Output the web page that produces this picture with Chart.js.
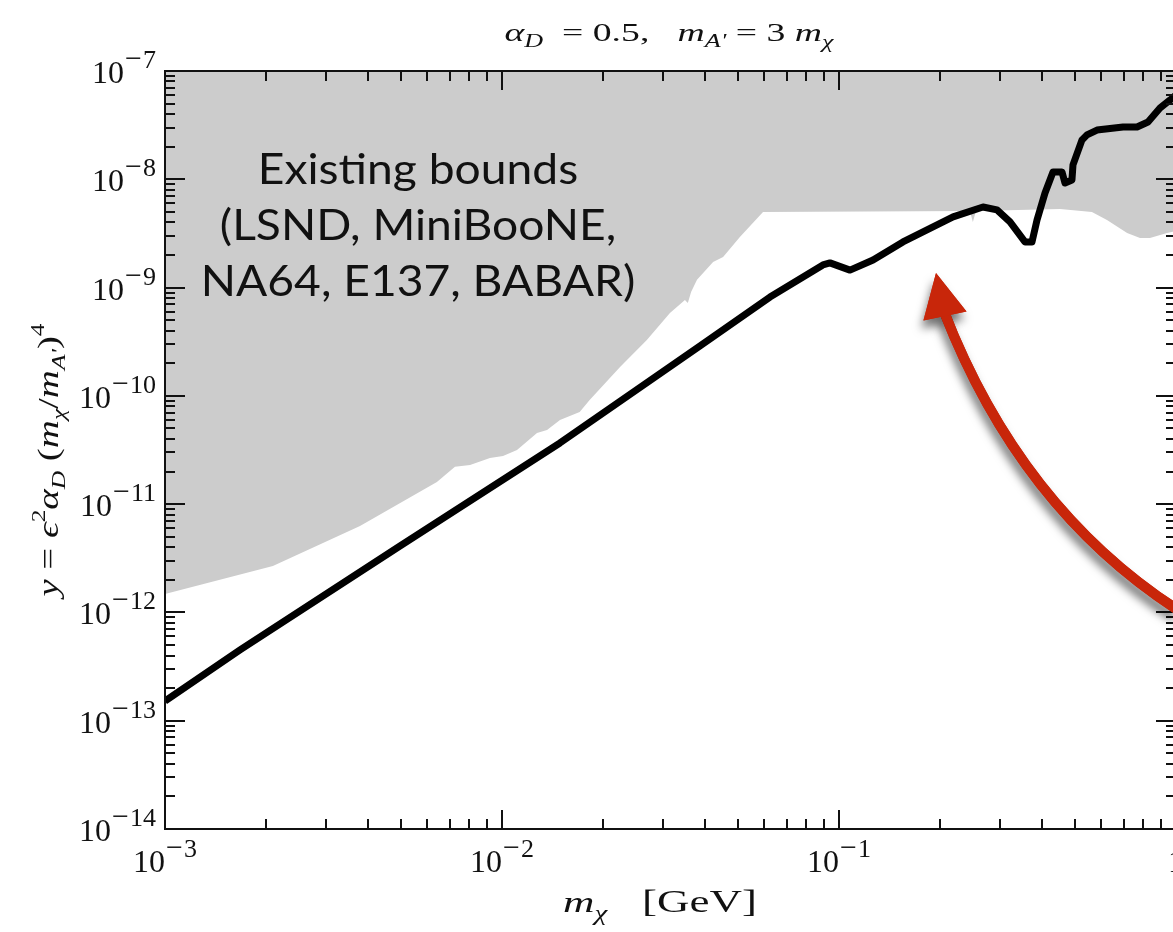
<!DOCTYPE html>
<html>
<head>
<meta charset="utf-8">
<script src="https://cdn.jsdelivr.net/npm/chart.js@4.4.1/dist/chart.umd.min.js"></script>
<style>
  html, body { margin: 0; padding: 0; background: #fff; overflow: hidden; }
</style>
</head>
<body>
<canvas id="plot" width="1200" height="932"></canvas>
<script>
/* ================================================
   DATA  (log-log axes)
================================================ */

// black curve: projected sensitivity
const curveX = [1.0e-3, 1.67e-3, 4.98e-3, 1.486e-2, 3.87e-2, 6.24e-2, 8.96e-2, 9.40e-2,
                0.1078, 0.1262, 0.1548, 0.2180, 0.2675, 0.2943, 0.3217, 0.3563, 0.3738,
                0.3869, 0.4086, 0.4315, 0.4588, 0.4684, 0.4912, 0.4947, 0.5261, 0.5444,
                0.5829, 0.6965, 0.7663, 0.8259, 0.8964, 0.9598, 1.0];
const curveY = [1.52e-13, 4.51e-13, 4.11e-12, 3.67e-11, 2.89e-10, 8.18e-10, 1.62e-9, 1.69e-9,
                1.45e-9, 1.80e-9, 2.64e-9, 4.49e-9, 5.55e-9, 5.21e-9, 4.04e-9, 2.64e-9, 2.64e-9,
                4.21e-9, 7.47e-9, 1.17e-8, 1.17e-8, 9.24e-9, 9.86e-9, 1.36e-8, 2.31e-8, 2.57e-8,
                2.85e-8, 3.04e-8, 3.04e-8, 3.38e-8, 4.55e-8, 5.39e-8, 6.0e-8];

// lower edge of the grey excluded region (filled up to the top)
const boundX = [1.0e-3, 2.09e-3, 3.79e-3, 6.41e-3, 7.25e-3, 8.04e-3, 9.21e-3, 1.007e-2,
                1.108e-2, 1.27e-2, 1.36e-2, 1.486e-2, 1.70e-2, 1.82e-2, 2.24e-2, 2.69e-2,
                3.15e-2, 3.49e-2, 3.56e-2, 3.64e-2, 3.79e-2, 4.23e-2, 4.53e-2, 5.08e-2,
                5.95e-2, 0.2446, 0.2496, 0.2549, 0.453, 0.563, 0.624, 0.716, 0.782, 0.837,
                0.940, 1.0];
const boundY = [1.48e-12, 2.69e-12, 6.29e-12, 1.60e-11, 2.21e-11, 2.30e-11, 2.67e-11, 2.79e-11,
                3.16e-11, 4.54e-11, 4.84e-11, 5.98e-11, 7.10e-11, 9.16e-11, 1.85e-10, 3.28e-10,
                5.82e-10, 7.69e-10, 7.21e-10, 9.1e-10, 1.18e-9, 1.72e-9, 1.92e-9, 2.93e-9,
                4.99e-9, 5.1e-9, 4.04e-9, 5.1e-9, 5.32e-9, 4.99e-9, 4.21e-9, 3.19e-9, 2.87e-9,
                2.87e-9, 3.19e-9, 3.33e-9];

// axis decades (exponents) and minor multipliers
const xDecades = [-3, -2, -1, 0];
const yDecades = [-14, -13, -12, -11, -10, -9, -8, -7];
const minorMult = [2, 3, 4, 5, 6, 7, 8, 9];

const boundsText = ['Existing bounds', '(LSND, MiniBooNE,', 'NA64, E137, BABAR)'];

/* ================================================
   TEXT HELPERS
================================================ */

const SERIF = "'Liberation Serif', 'Times New Roman', serif";
const f = (size, italic) => (italic ? 'italic ' : '') + size + 'px ' + SERIF;

/* runs flow left to right, each with its own font and baseline shift */
function drawRuns(ctx, runs, x, y, align) {
  let w = 0;
  runs.forEach(r => { ctx.font = r.font; w += (r.gap || 0) + ctx.measureText(r.t).width; });
  let cx = align === 'center' ? x - w / 2 : align === 'right' ? x - w : x;
  ctx.textAlign = 'left';
  ctx.textBaseline = 'alphabetic';
  runs.forEach(r => {
    ctx.font = r.font;
    cx += r.gap || 0;
    ctx.fillText(r.t, cx, y + (r.dy || 0));
    cx += ctx.measureText(r.t).width;
  });
}

/* same, but stretched along the reading direction like the wide math labels */
function drawWide(ctx, runs, x, y, sx, rot) {
  ctx.save();
  ctx.translate(x, y);
  if (rot) ctx.rotate(rot);
  ctx.scale(sx, 1);
  drawRuns(ctx, runs, 0, 0, 'center');
  ctx.restore();
}

function powRuns(e) {
  if (e === 0) return [{ t: '1', font: f(32) }];
  return [
    { t: '10', font: f(32) },
    { t: '\u2212', font: f(30), dy: -15, gap: 1 },
    { t: String(Math.abs(e)), font: f(26), dy: -15, gap: 1 },
  ];
}

/* ================================================
   DECORATION PLUGIN  (frame, inward ticks, labels, arrow)
================================================ */

const decor = {
  id: 'decor',
  beforeDraw(chart) {
    const ctx = chart.ctx;
    ctx.save();
    ctx.fillStyle = '#fff';
    ctx.fillRect(0, 0, chart.width, chart.height);
    ctx.restore();
  },
  afterDatasetsDraw(chart) {
    const ctx = chart.ctx;
    const a = chart.chartArea;
    const xs = chart.scales.x, ys = chart.scales.y;
    ctx.save();

    // frame
    ctx.strokeStyle = '#111';
    ctx.lineWidth = 2;
    ctx.strokeRect(a.left, a.top, a.right - a.left, a.bottom - a.top);

    // ticks, pointing inward on all four sides
    ctx.beginPath();
    const xTick = (v, len) => {
      const px = Math.round(xs.getPixelForValue(v));
      ctx.moveTo(px, a.bottom); ctx.lineTo(px, a.bottom - len);
      ctx.moveTo(px, a.top);    ctx.lineTo(px, a.top + len);
    };
    const yTick = (v, len) => {
      const py = Math.round(ys.getPixelForValue(v));
      ctx.moveTo(a.left, py);  ctx.lineTo(a.left + len, py);
      ctx.moveTo(a.right, py); ctx.lineTo(a.right - len, py);
    };
    xDecades.forEach((e, i) => {
      xTick(Math.pow(10, e), 19);
      if (i < xDecades.length - 1) minorMult.forEach(m => xTick(m * Math.pow(10, e), 10));
    });
    yDecades.forEach((e, i) => {
      yTick(Math.pow(10, e), 20);
      if (i < yDecades.length - 1) minorMult.forEach(m => yTick(m * Math.pow(10, e), 10));
    });
    ctx.stroke();

    // tick labels
    ctx.fillStyle = '#111';
    xDecades.forEach(e => {
      drawRuns(ctx, powRuns(e), xs.getPixelForValue(Math.pow(10, e)), 872, 'center');
    });
    yDecades.forEach(e => {
      drawRuns(ctx, powRuns(e), 156, ys.getPixelForValue(Math.pow(10, e)) + 12, 'right');
    });

    // title
    drawWide(ctx, [
      { t: '\u03b1', font: f(26, true) },
      { t: 'D', font: f(18, true), dy: 6 },
      { t: '  = 0.5,   ', font: f(26) },
      { t: 'm', font: f(26, true) },
      { t: "A'", font: f(18, true), dy: 6 },
      { t: ' = 3 ', font: f(26) },
      { t: 'm', font: f(26, true) },
      { t: '\u03c7', font: f(18, true), dy: 7 },
    ], 669, 41, 1.45);

    // x axis title
    drawWide(ctx, [
      { t: 'm', font: f(30, true) },
      { t: '\u03c7', font: f(20, true), dy: 8 },
      { t: '[GeV]', font: f(31), gap: 24 },
    ], 660, 912, 1.45);

    // y axis title (rotated, reads bottom to top)
    drawWide(ctx, [
      { t: 'y', font: f(29, true) },
      { t: ' = ', font: f(29) },
      { t: '\u03f5', font: f(29, true) },
      { t: '2', font: f(19), dy: -13 },
      { t: '\u03b1', font: f(29, true) },
      { t: 'D', font: f(19, true), dy: 7 },
      { t: ' (', font: f(29) },
      { t: 'm', font: f(29, true) },
      { t: '\u03c7', font: f(19, true), dy: 7 },
      { t: '/', font: f(29) },
      { t: 'm', font: f(29, true) },
      { t: "A'", font: f(19, true), dy: 7 },
      { t: ')', font: f(29) },
      { t: '4', font: f(19), dy: -14 },
    ], 58, 460, 1.34, -Math.PI / 2);

    // "Existing bounds" label inside the grey region
    ctx.save();
    ctx.translate(418, 0);
    ctx.scale(1.1, 1);
    ctx.font = '42px Lato, "Open Sans", sans-serif';
    ctx.textAlign = 'center';
    ctx.fillStyle = '#111';
    boundsText.forEach((line, i) => ctx.fillText(line, 0, 184 + i * 56));
    ctx.restore();

    // red curved arrow, anchored in data space
    const P = (x, y) => [xs.getPixelForValue(x), ys.getPixelForValue(y)];
    const tip  = P(0.194, 1.36e-9);
    const base = P(0.2063, 5.47e-10);
    const ctrl = P(0.3444, 9.42e-12);
    const tail = P(1.0, 1.08e-12);
    const dx = tip[0] - base[0], dy = tip[1] - base[1];
    const L = Math.hypot(dx, dy);
    const nx = -dy / L, ny = dx / L;
    const arrow = () => {
      ctx.lineWidth = 10;
      ctx.lineCap = 'butt';
      ctx.beginPath();
      ctx.moveTo(base[0] + dx / L * 4, base[1] + dy / L * 4);
      ctx.quadraticCurveTo(ctrl[0], ctrl[1], tail[0], tail[1]);
      ctx.stroke();
      ctx.beginPath();
      ctx.moveTo(tip[0], tip[1]);
      ctx.lineTo(base[0] + nx * 22, base[1] + ny * 22);
      ctx.lineTo(base[0] - nx * 22, base[1] - ny * 22);
      ctx.closePath();
      ctx.fill();
    };
    ctx.strokeStyle = '#c8260a';
    ctx.fillStyle = '#c8260a';
    ctx.save();
    ctx.shadowColor = 'rgba(0,0,0,0.55)';
    ctx.shadowBlur = 10;
    ctx.shadowOffsetX = -2;
    ctx.shadowOffsetY = 8;
    arrow();
    ctx.restore();
    arrow();

    ctx.restore();
  },
};

/* ================================================
   CHART
================================================ */

new Chart(document.getElementById('plot').getContext('2d'), {
  type: 'line',
  data: {
    datasets: [
      {
        label: 'projection',
        data: curveX.map((x, i) => ({ x, y: curveY[i] })),
        borderColor: '#000',
        borderWidth: 7,
        borderJoinStyle: 'round',
        pointRadius: 0,
        tension: 0,
        fill: false,
      },
      {
        label: 'existing bounds',
        data: boundX.map((x, i) => ({ x, y: boundY[i] })),
        borderColor: 'transparent',
        borderWidth: 0,
        backgroundColor: '#cccccc',
        pointRadius: 0,
        tension: 0,
        fill: 'end',
      },
    ],
  },
  options: {
    responsive: false,
    animation: false,
    layout: { padding: { left: 165, top: 71, right: 24, bottom: 103 } },
    plugins: {
      legend: { display: false },
      tooltip: { enabled: false },
    },
    scales: {
      x: { type: 'logarithmic', min: 1e-3, max: 1, display: false },
      y: { type: 'logarithmic', min: 1e-14, max: 1e-7, display: false },
    },
  },
  plugins: [decor],
});
</script>
</body>
</html>
